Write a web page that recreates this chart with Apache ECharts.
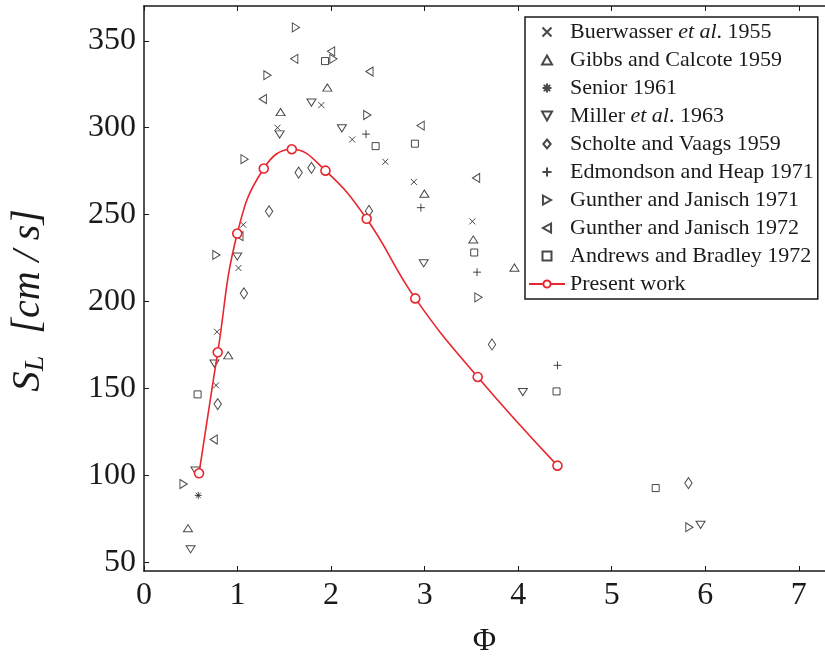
<!DOCTYPE html>
<html>
<head>
<meta charset="utf-8">
<script src="https://cdn.jsdelivr.net/npm/echarts@6/dist/echarts.min.js"></script>
<style>html,body{margin:0;padding:0;background:#fff}#c{width:825px;height:658px}</style>
</head>
<body>
<div id="c"></div>
<script>
// ---- data ----
const xTicks = [0, 1, 2, 3, 4, 5, 6, 7];
const yTicks = [50, 100, 150, 200, 250, 300, 350];

const buerwasser = [[1.896,313],[1.427,300],[2.226,293.2],[2.58,280.4],[2.885,268.8],[3.51,246.1],[1.061,244.2],[1.01,219.3],[0.78,182.6],[0.77,151.8]];
const gibbs = [[1.46,309],[1.96,323.1],[2.997,262.1],[3.52,235.7],[3.96,219.5],[0.9,169.1],[0.47,69.6]];
const senior = [[0.58,88.5]];
const miller = [[1.79,314.4],[1.45,296.1],[2.115,299.6],[0.997,225.9],[0.753,164.3],[2.99,222],[4.05,147.9],[0.55,102.7],[0.498,57.5],[5.95,71.5]];
const scholte = [[1.653,274.2],[1.79,276.9],[1.337,251.9],[2.405,252.1],[1.068,204.7],[0.788,141],[3.72,175.3],[5.82,95.6]];
const edmondson = [[2.373,296.3],[2.96,254],[3.56,216.9],[4.42,163.3]];
const gunther71 = [[1.624,357.7],[2.025,339.6],[1.32,330.2],[1.075,281.9],[2.387,307.3],[0.774,226.8],[3.575,202.4],[0.423,95],[5.83,70.2]];
const gunther72 = [[1.606,339.6],[2.0,343.9],[1.27,316.5],[2.41,332.3],[2.957,301.2],[3.55,271.1],[1.02,237.6],[0.745,120.6]];
const andrews = [[1.935,338.3],[2.476,289.4],[2.896,290.8],[3.53,228.2],[4.41,148.3],[0.573,146.6],[5.47,92.7]];
const presentX = [0.588,0.788,0.997,1.28,1.58,1.94,2.38,2.90,3.567,4.42];
const presentY = [101.2,170.8,239.1,276.5,287.6,275.3,247.6,201.8,156.6,105.6];

const names = ['Buerwasser et al. 1955','Gibbs and Calcote 1959','Senior 1961','Miller et al. 1963','Scholte and Vaags 1959','Edmondson and Heap 1971','Gunther and Janisch 1971','Gunther and Janisch 1972','Andrews and Bradley 1972','Present work'];

// ---- styling ----
const FONT = 'Liberation Serif, Times New Roman, serif';
const INK = '#1a1a1a';
const RED = '#e8262d';
const hollow = {color: 'none', borderColor: INK, borderWidth: 1};
const crossPath = 'path://M0,0L10,10M10,0L0,10';
const plusPath = 'path://M5,0L5,10M0,5L10,5';
const starPath = 'path://M5,0L5,10M0,5L10,5M1.5,1.5L8.5,8.5M8.5,1.5L1.5,8.5';
const triUp = 'path://M5,0L10,9L0,9Z';
const triDown = 'path://M0,0L10,0L5,9Z';
const triRight = 'path://M0,0L9,5L0,10Z';
const triLeft = 'path://M9,0L0,5L9,10Z';
const diamondPath = 'path://M4.5,0L9,5.5L4.5,11L0,5.5Z';
const squarePath = 'path://M0,0L10,0L10,10L0,10Z';

function sc(name, data, symbol, size) {
  return {
    type: 'scatter', name: name, data: data, symbol: symbol, symbolSize: size,
    symbolKeepAspect: true, itemStyle: hollow, z: 3, emphasis: {disabled: true}
  };
}

const axisCommon = {
  type: 'value',
  axisLine: {show: true, onZero: false, lineStyle: {color: INK, width: 1.5}},
  axisTick: {show: true, inside: true, length: 5, lineStyle: {color: INK, width: 1}},
  splitLine: {show: false}
};

const legendIcons = [crossPath, triUp, starPath, triDown, diamondPath, plusPath, triRight, triLeft, squarePath];

const option = {
  animation: false,
  backgroundColor: '#fff',
  textStyle: {fontFamily: FONT},
  grid: {left: 144, right: 0, top: 6, bottom: 87, containLabel: false, outerBoundsMode: 'none'},
  xAxis: [
    Object.assign({}, axisCommon, {
      min: 0, max: 7.28, position: 'bottom',
      axisTick: Object.assign({}, axisCommon.axisTick, {customValues: xTicks}),
      axisLabel: {customValues: xTicks, fontFamily: FONT, fontSize: 32, color: INK, margin: 9},
      name: 'Φ', nameLocation: 'middle', nameGap: 55,
      nameTextStyle: {fontFamily: FONT, fontSize: 32, color: INK}
    }),
    Object.assign({}, axisCommon, {
      min: 0, max: 7.28, position: 'top',
      axisTick: Object.assign({}, axisCommon.axisTick, {customValues: xTicks}),
      axisLabel: {show: false}
    })
  ],
  yAxis: [
    Object.assign({}, axisCommon, {
      min: 45, max: 370, position: 'left',
      axisTick: Object.assign({}, axisCommon.axisTick, {customValues: yTicks}),
      axisLabel: {customValues: yTicks, fontFamily: FONT, fontSize: 32, color: INK, margin: 8},
      name: '{s|S}{sub|L}{g| }{i|[cm / s]}{e| }', nameLocation: 'middle', nameGap: 94, nameRotate: 90,
      nameTextStyle: {
        fontFamily: FONT, color: INK,
        rich: {
          s: {fontFamily: FONT, fontStyle: 'italic', fontSize: 41, color: INK, lineHeight: 44},
          sub: {fontFamily: FONT, fontStyle: 'italic', fontSize: 28, color: INK, lineHeight: 44, verticalAlign: 'bottom', padding: [16, 0, 0, 0]},
          g: {fontSize: 40, width: 22, lineHeight: 44},
          i: {fontFamily: FONT, fontStyle: 'italic', fontSize: 40, color: INK, lineHeight: 44},
          e: {fontSize: 40, width: 24, lineHeight: 44}
        }
      }
    })
  ],
  legend: {
    orient: 'vertical', left: 525, top: 17,
    padding: [4, 4, 4, 3],
    itemWidth: 36, itemHeight: 9, itemGap: 6,
    symbolKeepAspect: true,
    borderColor: INK, borderWidth: 1.5, backgroundColor: '#fff',
    selectedMode: false,
    data: names.map((n, i) => i < 9 ? {name: n, icon: legendIcons[i]} : {name: n}),
    formatter: function (n) {
      if (n === names[0]) return '{n|Buerwasser }{i|et al}{n|. 1955}';
      if (n === names[3]) return '{n|Miller }{i|et al}{n|. 1963}';
      return '{n|' + n + '}';
    },
    textStyle: {
      fontFamily: FONT, fontSize: 22, color: INK, lineHeight: 22,
      rich: {
        n: {fontFamily: FONT, fontSize: 22, color: INK, lineHeight: 22},
        i: {fontFamily: FONT, fontSize: 22, color: INK, fontStyle: 'italic', lineHeight: 22}
      }
    }
  },
  series: [
    sc(names[0], buerwasser, crossPath, 6),
    sc(names[1], gibbs, triUp, [9, 8]),
    sc(names[2], senior, starPath, 7),
    sc(names[3], miller, triDown, [9, 8]),
    sc(names[4], scholte, diamondPath, [9, 11]),
    sc(names[5], edmondson, plusPath, 8),
    sc(names[6], gunther71, triRight, [8, 9]),
    sc(names[7], gunther72, triLeft, [8, 9]),
    sc(names[8], andrews, squarePath, 7),
    {
      type: 'line', name: names[9],
      data: presentX.map((x, i) => [x, presentY[i]]),
      smooth: 0.45, symbol: 'circle', symbolSize: 9, showSymbol: true,
      lineStyle: {color: RED, width: 1.6},
      itemStyle: {color: '#fff', borderColor: RED, borderWidth: 1.6},
      z: 4, emphasis: {disabled: true}
    }
  ]
};

const chart = echarts.init(document.getElementById('c'), null, {renderer: 'canvas'});
chart.setOption(option);
</script>
</body>
</html>
